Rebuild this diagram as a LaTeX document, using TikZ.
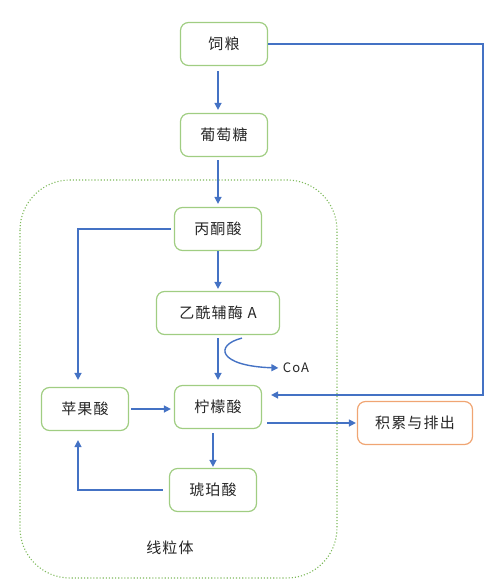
\documentclass[tikz,border=0pt]{standalone}
\usepackage{fontspec}
\setmainfont{Noto Sans CJK SC}[LetterSpace=8]
\usepackage{tikz}
\usetikzlibrary{arrows.meta}
\usepackage{xcolor}
\definecolor{boxgreen}{RGB}{160,205,130}
\definecolor{dotgreen}{RGB}{125,185,90}
\definecolor{boxorange}{RGB}{240,165,115}
\definecolor{flowblue}{RGB}{68,114,196}

\begin{document}
\begin{tikzpicture}[x=1pt,y=-1pt,
    font=\fontsize{15pt}{17pt}\selectfont,
    stage/.style={draw=boxgreen,line width=1.2pt,rounded corners=8pt,
                  minimum width=87pt,minimum height=43pt,text=black!85},
    flow/.style={draw=flowblue,line width=1.4pt,-{Triangle[width=7pt,length=7pt]}}
    ]
    \useasboundingbox (0,0) rectangle (500,581);
    \draw[dotgreen,dotted,line width=1.1pt,rounded corners=50pt] (20,180) rectangle (337,578);

    \node[stage] (siliang)  at (224,44)  {饲粮};
    \node[stage] (putao)    at (224,135) {葡萄糖};
    \node[stage] (bingtong) at (218,229) {丙酮酸};
    \node[stage,minimum width=123pt] (yixian) at (218,313) {乙酰辅酶 A};
    \node[stage] (ningmeng) at (218,407) {柠檬酸};
    \node[stage] (pingguo)  at (85,409)  {苹果酸};
    \node[stage] (hupo)     at (213,490) {琥珀酸};
    \node[stage,draw=boxorange,minimum width=115pt] (jilei) at (415,423) {积累与排出};
    \node[text=black!85,font=\fontsize{13pt}{15pt}\selectfont] (coa) at (296,368) {CoA};
    \node[text=black!85] (xianliti) at (170,548) {线粒体};

    \coordinate (turn) at (483,44);

    \draw[flow,shorten <=5pt,shorten >=3pt] (siliang.south -| bingtong) -- (putao.north -| bingtong);
    \draw[flow,shorten <=3pt,shorten >=3pt] (putao.south -| bingtong) -- (bingtong);
    \draw[flow,shorten >=2pt] (bingtong) -- (yixian);
    \draw[flow,shorten <=3pt,shorten >=5pt] (yixian) -- (ningmeng);
    \draw[flow,shorten >=1pt] ([xshift=24pt,yshift=-3pt]yixian.south)
        .. controls (214,345) and (218,366) .. (coa.west);
    \draw[flow,shorten <=3pt,shorten >=7pt] (bingtong.west) -| ([xshift=-7pt]pingguo.north);
    \draw[flow,shorten <=2pt,shorten >=3pt] (pingguo.east) -- (pingguo.east -| ningmeng.west);
    \draw[flow,shorten <=4pt,shorten >=1pt] (ningmeng.south -| hupo) -- (hupo);
    \draw[flow,shorten <=6pt,shorten >=9pt] (hupo.west) -| ([xshift=-7pt]pingguo.south);
    \draw[flow,shorten >=9pt] (siliang.east) -- (turn) |- ([yshift=12pt]ningmeng.east);
    \draw[flow,shorten >=1pt] ([xshift=5pt]ningmeng.east |- jilei.west) -- (jilei.west);
\end{tikzpicture}
\end{document}
